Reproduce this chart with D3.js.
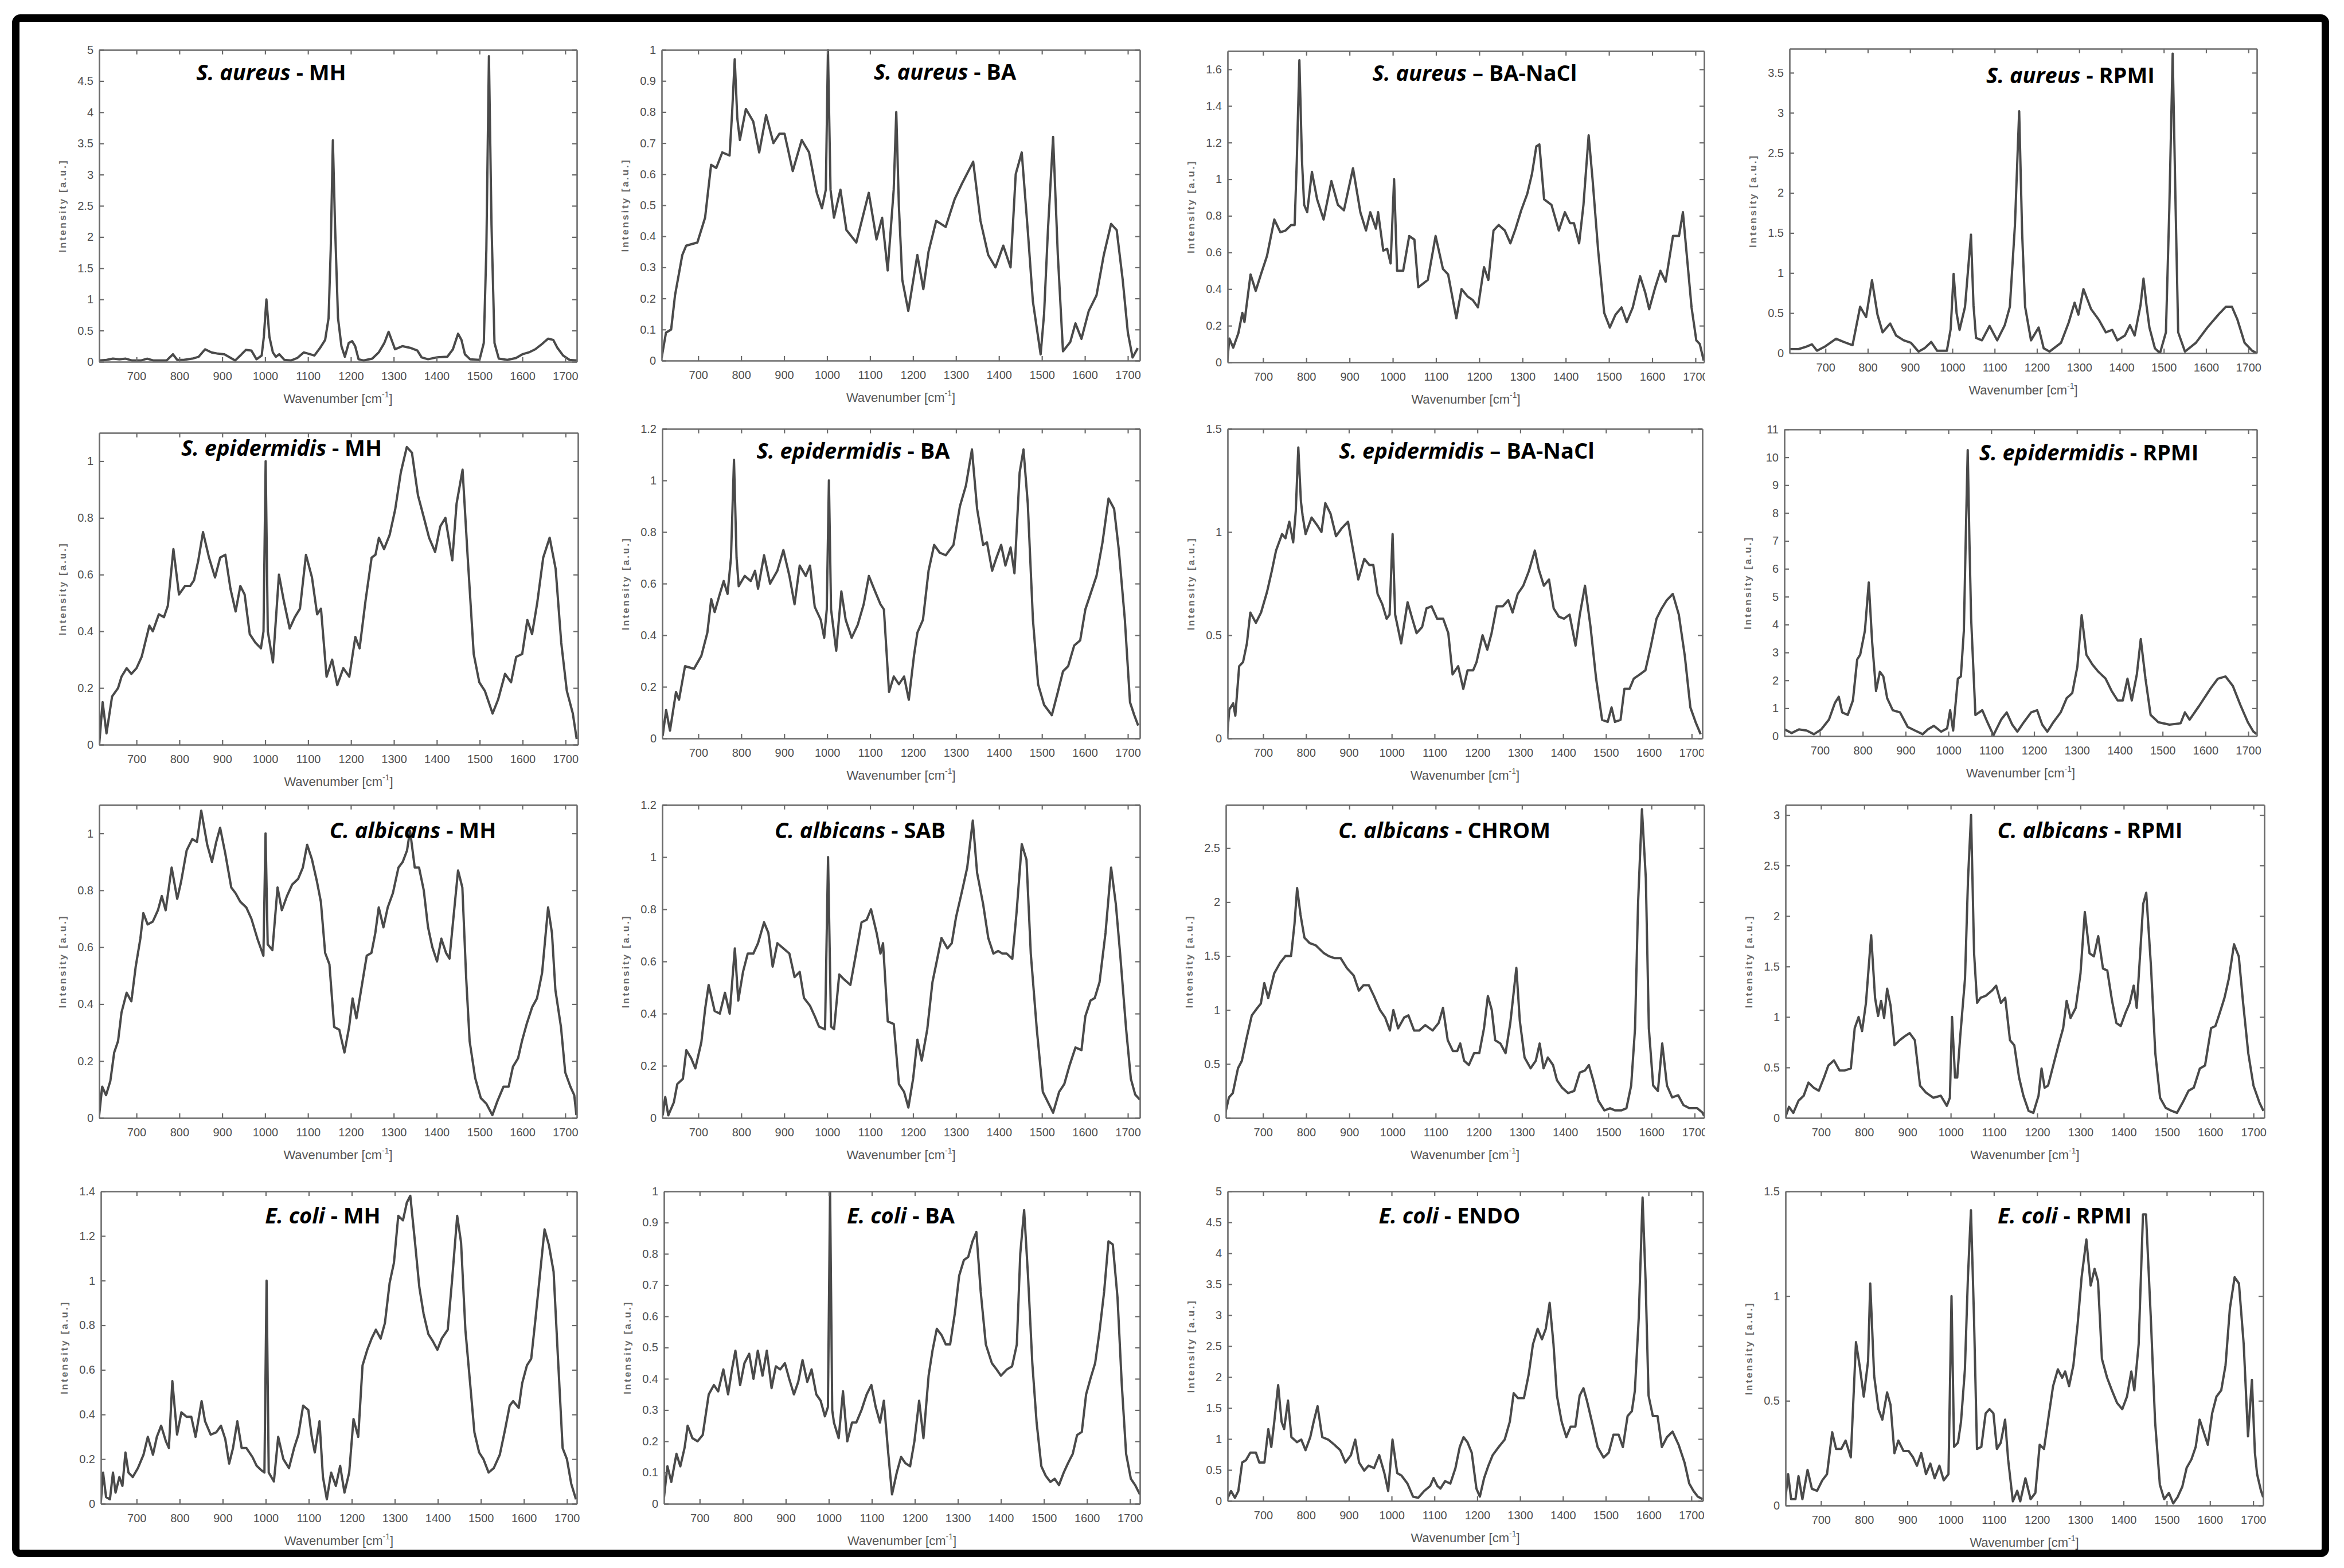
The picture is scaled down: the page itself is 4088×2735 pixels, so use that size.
<!DOCTYPE html>
<html><head><meta charset="utf-8">
<script src="https://cdn.jsdelivr.net/npm/d3@7"></script>
<style>body{margin:0;background:#fff}</style>
</head><body>
<script>
// ---------------- DATA (wavenumber [cm-1], intensity [a.u.]) ----------------
const xTickValues = [700,800,900,1000,1100,1200,1300,1400,1500,1600,1700];

const sAureusMH = [[613,0.02],[630,0.03],[645,0.05],[660,0.04],[675,0.05],[690,0.02],[710,0.02],[725,0.05],[740,0.02],[770,0.02],[785,0.12],[795,0.03],[810,0.03],[830,0.05],[845,0.08],[860,0.2],[875,0.15],[890,0.13],[905,0.12],[915,0.08],[930,0.02],[945,0.12],[955,0.19],[968,0.18],[980,0.04],[992,0.1],[997,0.4],[1003,1.0],[1010,0.4],[1018,0.15],[1025,0.08],[1033,0.12],[1045,0.03],[1060,0.02],[1075,0.06],[1090,0.15],[1105,0.12],[1115,0.1],[1128,0.22],[1140,0.35],[1148,0.7],[1153,1.8],[1158,3.55],[1163,2.2],[1170,0.7],[1178,0.25],[1186,0.08],[1195,0.3],[1203,0.33],[1210,0.25],[1218,0.04],[1230,0.02],[1250,0.05],[1265,0.15],[1278,0.3],[1288,0.48],[1295,0.35],[1303,0.2],[1320,0.25],[1340,0.22],[1355,0.18],[1365,0.07],[1380,0.04],[1400,0.07],[1425,0.08],[1438,0.2],[1450,0.45],[1458,0.35],[1466,0.12],[1478,0.04],[1500,0.03],[1510,0.3],[1516,1.8],[1522,4.9],[1528,2.2],[1535,0.3],[1545,0.05],[1565,0.03],[1585,0.06],[1600,0.12],[1615,0.15],[1630,0.2],[1645,0.28],[1660,0.37],[1672,0.35],[1682,0.22],[1695,0.1],[1710,0.03],[1727,0.02]];

const sAureusBA = [[615,0.01],[625,0.09],[637,0.1],[646,0.21],[663,0.34],[672,0.37],[698,0.38],[716,0.46],[730,0.63],[742,0.62],[756,0.67],[773,0.66],[779,0.8],[785,0.97],[791,0.78],[797,0.71],[811,0.81],[828,0.77],[842,0.67],[858,0.79],[875,0.7],[889,0.73],[901,0.73],[920,0.61],[941,0.71],[958,0.67],[976,0.54],[988,0.49],[997,0.55],[1002,1.0],[1008,0.55],[1016,0.46],[1031,0.55],[1045,0.42],[1068,0.38],[1097,0.54],[1115,0.39],[1128,0.46],[1141,0.29],[1155,0.55],[1161,0.8],[1167,0.5],[1175,0.26],[1189,0.16],[1210,0.34],[1224,0.23],[1236,0.35],[1254,0.45],[1276,0.43],[1297,0.52],[1314,0.57],[1340,0.64],[1357,0.45],[1375,0.34],[1392,0.3],[1410,0.37],[1427,0.3],[1439,0.6],[1453,0.67],[1467,0.42],[1479,0.19],[1497,0.02],[1505,0.15],[1514,0.42],[1526,0.72],[1537,0.34],[1549,0.03],[1566,0.06],[1578,0.12],[1592,0.07],[1609,0.16],[1627,0.21],[1644,0.34],[1661,0.44],[1674,0.42],[1688,0.26],[1700,0.09],[1711,0.01],[1723,0.04]];

const sAureusBANaCl = [[617,0.0],[622,0.13],[631,0.08],[643,0.16],[652,0.27],[657,0.22],[671,0.48],[683,0.39],[695,0.48],[709,0.58],[726,0.78],[740,0.71],[752,0.72],[765,0.75],[773,0.75],[778,1.1],[784,1.65],[790,1.1],[795,0.86],[802,0.82],[813,1.04],[825,0.89],[840,0.78],[858,0.99],[873,0.86],[887,0.83],[908,1.06],[925,0.82],[938,0.72],[948,0.82],[961,0.73],[966,0.82],[978,0.61],[987,0.62],[995,0.54],[1003,1.0],[1010,0.5],[1024,0.5],[1038,0.69],[1050,0.67],[1059,0.41],[1081,0.45],[1099,0.69],[1116,0.51],[1128,0.48],[1147,0.24],[1159,0.4],[1173,0.36],[1185,0.34],[1197,0.3],[1211,0.52],[1221,0.45],[1233,0.72],[1245,0.75],[1259,0.72],[1272,0.65],[1284,0.73],[1297,0.83],[1311,0.92],[1322,1.03],[1332,1.18],[1339,1.19],[1350,0.89],[1367,0.86],[1384,0.72],[1398,0.82],[1410,0.76],[1419,0.76],[1431,0.65],[1441,0.86],[1453,1.24],[1462,1.0],[1475,0.61],[1489,0.27],[1502,0.19],[1515,0.26],[1529,0.3],[1541,0.22],[1555,0.3],[1572,0.47],[1584,0.38],[1593,0.29],[1607,0.41],[1619,0.5],[1631,0.44],[1648,0.69],[1662,0.69],[1671,0.82],[1679,0.61],[1691,0.3],[1702,0.12],[1710,0.1],[1719,0.01]];

const sAureusRPMI = [[615,0.05],[636,0.05],[654,0.08],[668,0.11],[680,0.03],[698,0.08],[725,0.18],[743,0.14],[764,0.1],[782,0.58],[796,0.45],[810,0.91],[823,0.48],[835,0.26],[853,0.37],[867,0.22],[885,0.16],[902,0.13],[920,0.02],[934,0.06],[950,0.14],[964,0.03],[987,0.03],[996,0.3],[1003,0.99],[1010,0.5],[1017,0.29],[1030,0.58],[1044,1.48],[1050,0.6],[1056,0.19],[1070,0.16],[1088,0.34],[1106,0.16],[1124,0.35],[1136,0.58],[1148,1.6],[1158,3.02],[1165,1.5],[1172,0.58],[1186,0.16],[1204,0.32],[1216,0.06],[1230,0.02],[1257,0.13],[1275,0.38],[1289,0.63],[1298,0.48],[1310,0.8],[1328,0.55],[1346,0.42],[1363,0.26],[1378,0.29],[1390,0.16],[1408,0.22],[1420,0.35],[1431,0.22],[1445,0.6],[1452,0.93],[1459,0.6],[1466,0.32],[1479,0.06],[1491,0.0],[1505,0.26],[1513,1.8],[1521,3.74],[1528,1.8],[1534,0.26],[1550,0.02],[1576,0.13],[1603,0.32],[1629,0.48],[1647,0.58],[1661,0.58],[1674,0.42],[1691,0.13],[1709,0.03],[1720,0.0]];

const sEpiMH = [[613,0.0],[621,0.15],[630,0.04],[643,0.17],[657,0.2],[665,0.24],[677,0.27],[688,0.25],[700,0.27],[712,0.31],[730,0.42],[738,0.4],[752,0.46],[764,0.45],[773,0.49],[786,0.69],[799,0.53],[813,0.56],[825,0.56],[834,0.58],[844,0.65],[855,0.75],[869,0.66],[883,0.59],[895,0.66],[907,0.67],[919,0.55],[931,0.47],[942,0.56],[952,0.53],[964,0.39],[977,0.36],[990,0.34],[996,0.4],[1001,1.0],[1006,0.4],[1018,0.29],[1032,0.6],[1043,0.51],[1057,0.41],[1069,0.45],[1081,0.48],[1095,0.67],[1109,0.59],[1121,0.46],[1130,0.48],[1143,0.24],[1156,0.3],[1168,0.21],[1182,0.27],[1196,0.24],[1210,0.38],[1220,0.34],[1234,0.51],[1248,0.66],[1257,0.67],[1265,0.73],[1277,0.69],[1290,0.74],[1303,0.83],[1316,0.96],[1330,1.05],[1342,1.03],[1356,0.88],[1370,0.8],[1382,0.73],[1396,0.68],[1408,0.77],[1420,0.8],[1436,0.65],[1446,0.85],[1460,0.97],[1472,0.66],[1486,0.32],[1499,0.22],[1512,0.19],[1530,0.11],[1543,0.16],[1559,0.25],[1573,0.22],[1585,0.31],[1599,0.32],[1611,0.44],[1622,0.39],[1634,0.5],[1648,0.66],[1663,0.73],[1677,0.62],[1690,0.36],[1703,0.19],[1717,0.11],[1726,0.02]];

const sEpiBA = [[617,0.01],[625,0.11],[634,0.03],[648,0.18],[655,0.15],[669,0.28],[690,0.27],[707,0.32],[721,0.41],[730,0.54],[738,0.49],[750,0.56],[759,0.61],[768,0.56],[776,0.7],[783,1.08],[789,0.7],[794,0.59],[808,0.63],[822,0.61],[832,0.65],[839,0.58],[853,0.71],[867,0.6],[884,0.65],[898,0.73],[912,0.63],[924,0.52],[936,0.67],[950,0.63],[960,0.67],[971,0.51],[985,0.46],[993,0.39],[999,0.5],[1004,1.0],[1009,0.5],[1021,0.34],[1033,0.57],[1043,0.46],[1057,0.39],[1071,0.44],[1085,0.52],[1097,0.63],[1109,0.58],[1124,0.52],[1132,0.5],[1144,0.18],[1155,0.24],[1167,0.21],[1179,0.24],[1190,0.15],[1202,0.32],[1210,0.41],[1223,0.46],[1236,0.65],[1249,0.75],[1262,0.72],[1276,0.71],[1294,0.75],[1309,0.9],[1323,0.98],[1337,1.12],[1349,0.89],[1363,0.75],[1372,0.76],[1384,0.65],[1394,0.7],[1405,0.75],[1415,0.67],[1427,0.74],[1436,0.64],[1448,1.03],[1457,1.12],[1467,0.91],[1479,0.46],[1491,0.21],[1505,0.13],[1523,0.09],[1537,0.18],[1549,0.26],[1561,0.28],[1575,0.36],[1589,0.38],[1601,0.5],[1613,0.56],[1627,0.63],[1641,0.76],[1655,0.93],[1668,0.89],[1679,0.73],[1693,0.46],[1705,0.14],[1715,0.09],[1724,0.05]];

const sEpiBANaCl = [[616,0.02],[621,0.14],[630,0.17],[635,0.11],[644,0.35],[653,0.37],[662,0.46],[670,0.61],[683,0.56],[695,0.61],[709,0.71],[720,0.81],[730,0.91],[744,0.99],[752,0.97],[761,1.05],[770,0.95],[776,1.1],[782,1.41],[788,1.15],[792,1.08],[799,0.99],[813,1.07],[827,1.03],[836,1.0],[845,1.14],[857,1.09],[870,0.98],[884,1.02],[898,1.05],[910,0.91],[922,0.77],[936,0.87],[948,0.84],[957,0.84],[967,0.7],[978,0.65],[988,0.58],[995,0.6],[1002,0.99],[1008,0.6],[1022,0.46],[1037,0.66],[1048,0.58],[1058,0.51],[1071,0.54],[1081,0.63],[1093,0.64],[1106,0.58],[1120,0.58],[1132,0.51],[1142,0.31],[1155,0.35],[1167,0.24],[1177,0.33],[1190,0.33],[1198,0.37],[1212,0.5],[1223,0.43],[1233,0.51],[1245,0.64],[1259,0.64],[1272,0.67],[1282,0.61],[1294,0.7],[1307,0.74],[1320,0.81],[1334,0.91],[1343,0.82],[1355,0.74],[1367,0.77],[1378,0.63],[1390,0.59],[1402,0.58],[1415,0.6],[1429,0.45],[1439,0.6],[1451,0.74],[1464,0.54],[1477,0.29],[1491,0.09],[1504,0.08],[1513,0.15],[1521,0.08],[1534,0.09],[1543,0.24],[1555,0.24],[1565,0.29],[1579,0.31],[1592,0.33],[1604,0.44],[1618,0.58],[1630,0.63],[1642,0.67],[1656,0.7],[1670,0.6],[1684,0.4],[1697,0.15],[1709,0.08],[1721,0.02]];

const sEpiRPMI = [[618,0.24],[634,0.11],[651,0.24],[669,0.2],[686,0.07],[703,0.24],[721,0.59],[735,1.19],[744,1.41],[752,0.85],[765,0.76],[777,1.28],[787,2.75],[794,2.92],[805,3.78],[814,5.51],[822,3.35],[831,1.62],[840,2.31],[848,2.14],[857,1.36],[870,0.93],[887,0.85],[905,0.33],[922,0.2],[940,0.07],[952,0.24],[966,0.37],[983,0.16],[997,0.28],[1004,0.93],[1011,0.2],[1022,2.06],[1029,2.14],[1036,3.78],[1041,7.5],[1045,10.26],[1049,7.0],[1053,4.21],[1063,0.76],[1079,0.93],[1091,0.5],[1105,0.03],[1123,0.59],[1136,0.85],[1149,0.41],[1161,0.16],[1176,0.5],[1193,0.85],[1207,0.93],[1219,0.41],[1231,0.16],[1245,0.5],[1262,0.85],[1276,1.36],[1289,1.54],[1301,2.49],[1311,4.34],[1322,2.92],[1336,2.57],[1350,2.31],[1367,2.06],[1381,1.62],[1395,1.28],[1407,1.28],[1418,2.06],[1428,1.28],[1440,2.23],[1449,3.48],[1460,2.06],[1472,0.76],[1490,0.5],[1516,0.41],[1542,0.46],[1552,0.85],[1563,0.59],[1586,1.1],[1612,1.71],[1629,2.06],[1647,2.14],[1664,1.8],[1682,1.1],[1699,0.5],[1712,0.16],[1720,0.07]];

const cAlbMH = [[613,0.01],[620,0.11],[629,0.08],[639,0.13],[648,0.23],[657,0.27],[665,0.37],[677,0.44],[688,0.41],[698,0.53],[709,0.63],[716,0.72],[726,0.68],[738,0.69],[750,0.73],[759,0.78],[768,0.73],[782,0.88],[795,0.77],[804,0.83],[817,0.94],[830,0.98],[841,0.97],[851,1.08],[865,0.96],[876,0.9],[886,0.97],[895,1.02],[907,0.93],[921,0.81],[931,0.79],[942,0.76],[956,0.74],[968,0.7],[982,0.63],[996,0.57],[1001,1.0],[1006,0.61],[1017,0.59],[1029,0.81],[1039,0.73],[1051,0.78],[1063,0.82],[1077,0.84],[1088,0.88],[1098,0.96],[1109,0.91],[1121,0.83],[1130,0.76],[1140,0.58],[1150,0.54],[1161,0.32],[1173,0.31],[1185,0.23],[1196,0.32],[1204,0.42],[1213,0.35],[1225,0.46],[1237,0.57],[1248,0.58],[1257,0.65],[1265,0.74],[1276,0.67],[1286,0.74],[1298,0.79],[1311,0.88],[1321,0.9],[1331,0.94],[1338,1.01],[1349,0.88],[1359,0.88],[1370,0.8],[1380,0.67],[1390,0.6],[1401,0.55],[1411,0.63],[1422,0.58],[1430,0.56],[1439,0.7],[1450,0.87],[1460,0.81],[1469,0.49],[1477,0.27],[1490,0.14],[1503,0.07],[1516,0.05],[1530,0.01],[1542,0.06],[1556,0.11],[1568,0.11],[1578,0.18],[1590,0.21],[1599,0.27],[1610,0.33],[1623,0.39],[1634,0.42],[1646,0.51],[1660,0.74],[1669,0.65],[1677,0.45],[1690,0.32],[1700,0.16],[1712,0.11],[1721,0.08],[1726,0.01]];

const cAlbSAB = [[617,0.01],[623,0.08],[630,0.01],[643,0.06],[651,0.13],[664,0.15],[672,0.26],[683,0.23],[693,0.19],[707,0.29],[716,0.42],[724,0.51],[738,0.41],[750,0.4],[762,0.48],[773,0.4],[785,0.65],[793,0.45],[804,0.56],[815,0.63],[828,0.63],[839,0.67],[853,0.75],[863,0.71],[873,0.58],[884,0.67],[898,0.65],[912,0.63],[924,0.54],[936,0.56],[946,0.46],[960,0.43],[971,0.39],[981,0.35],[995,0.34],[1002,1.0],[1009,0.35],[1016,0.34],[1028,0.55],[1040,0.53],[1054,0.51],[1066,0.62],[1080,0.75],[1092,0.76],[1102,0.8],[1115,0.71],[1124,0.63],[1130,0.67],[1141,0.37],[1155,0.36],[1167,0.13],[1179,0.1],[1189,0.04],[1200,0.15],[1210,0.3],[1220,0.22],[1233,0.34],[1245,0.52],[1255,0.6],[1266,0.69],[1280,0.65],[1290,0.67],[1300,0.77],[1314,0.87],[1326,0.96],[1339,1.14],[1349,0.94],[1363,0.82],[1375,0.69],[1387,0.63],[1398,0.64],[1408,0.63],[1418,0.63],[1431,0.61],[1441,0.79],[1453,1.05],[1464,0.99],[1474,0.63],[1488,0.34],[1502,0.1],[1514,0.06],[1526,0.02],[1540,0.1],[1552,0.13],[1564,0.2],[1578,0.27],[1592,0.26],[1601,0.39],[1613,0.45],[1623,0.46],[1634,0.52],[1648,0.71],[1661,0.96],[1672,0.82],[1682,0.63],[1696,0.34],[1707,0.15],[1717,0.09],[1728,0.07]];

const cAlbCHROM = [[613,0.05],[621,0.19],[630,0.23],[642,0.46],[651,0.53],[662,0.74],[674,0.95],[687,1.02],[695,1.06],[703,1.25],[712,1.11],[726,1.34],[740,1.44],[752,1.5],[765,1.5],[773,1.8],[779,2.13],[787,1.88],[796,1.67],[808,1.62],[822,1.6],[840,1.53],[852,1.5],[866,1.48],[880,1.48],[894,1.39],[910,1.32],[922,1.18],[933,1.23],[945,1.23],[957,1.13],[971,1.0],[983,0.93],[994,0.81],[1002,1.0],[1013,0.83],[1027,0.93],[1037,0.95],[1050,0.81],[1062,0.81],[1076,0.86],[1093,0.81],[1107,0.88],[1117,1.02],[1128,0.72],[1140,0.62],[1150,0.62],[1157,0.69],[1166,0.53],[1177,0.49],[1189,0.6],[1201,0.6],[1212,0.83],[1221,1.13],[1230,1.0],[1238,0.72],[1250,0.69],[1262,0.6],[1273,0.88],[1287,1.39],[1295,0.9],[1306,0.56],[1320,0.46],[1332,0.53],[1341,0.69],[1350,0.46],[1360,0.56],[1372,0.49],[1381,0.35],[1393,0.28],[1407,0.23],[1421,0.25],[1434,0.42],[1446,0.44],[1455,0.49],[1465,0.35],[1477,0.16],[1491,0.07],[1504,0.09],[1516,0.07],[1530,0.07],[1542,0.09],[1553,0.3],[1562,0.83],[1569,1.99],[1578,2.86],[1587,2.22],[1594,0.83],[1604,0.3],[1615,0.25],[1625,0.69],[1636,0.3],[1648,0.19],[1662,0.21],[1674,0.12],[1688,0.09],[1706,0.09],[1718,0.05],[1722,0.02]];

const cAlbRPMI = [[617,0.0],[626,0.11],[636,0.05],[648,0.17],[660,0.22],[671,0.35],[683,0.3],[695,0.27],[707,0.4],[717,0.52],[730,0.57],[743,0.47],[755,0.47],[769,0.49],[778,0.89],[787,1.0],[795,0.86],[804,1.14],[816,1.81],[825,1.19],[832,1.01],[839,1.16],[846,0.99],[853,1.28],[861,1.11],[870,0.72],[882,0.77],[894,0.81],[905,0.84],[917,0.77],[929,0.32],[943,0.25],[960,0.2],[977,0.22],[991,0.12],[998,0.2],[1003,1.0],[1010,0.4],[1015,0.4],[1022,0.81],[1033,1.38],[1040,2.37],[1047,3.0],[1054,1.63],[1061,1.14],[1069,1.19],[1081,1.21],[1095,1.26],[1105,1.31],[1116,1.14],[1126,1.19],[1137,0.77],[1147,0.72],[1158,0.4],[1168,0.22],[1180,0.07],[1191,0.05],[1203,0.22],[1210,0.49],[1217,0.3],[1225,0.32],[1237,0.52],[1249,0.72],[1260,0.89],[1268,1.16],[1277,0.99],[1289,1.09],[1300,1.43],[1310,2.04],[1321,1.63],[1331,1.6],[1341,1.8],[1352,1.48],[1362,1.46],[1373,1.16],[1383,0.94],[1393,0.91],[1404,1.04],[1414,1.14],[1423,1.31],[1430,1.09],[1438,1.63],[1445,2.12],[1452,2.23],[1463,1.5],[1473,0.64],[1484,0.2],[1497,0.1],[1511,0.07],[1523,0.05],[1536,0.15],[1550,0.27],[1562,0.3],[1576,0.49],[1588,0.52],[1602,0.89],[1612,0.91],[1622,1.04],[1633,1.19],[1643,1.38],[1655,1.72],[1666,1.6],[1676,1.14],[1688,0.64],[1700,0.32],[1714,0.15],[1723,0.07]];

const eColiMH = [[617,0.01],[622,0.14],[629,0.03],[638,0.02],[645,0.14],[651,0.05],[660,0.12],[667,0.08],[674,0.23],[681,0.14],[691,0.12],[703,0.16],[716,0.22],[726,0.3],[738,0.22],[747,0.3],[757,0.35],[768,0.28],[775,0.25],[783,0.55],[794,0.31],[804,0.41],[816,0.39],[827,0.39],[837,0.3],[851,0.46],[859,0.37],[872,0.31],[885,0.32],[896,0.35],[906,0.29],[915,0.18],[924,0.25],[934,0.37],[944,0.25],[955,0.25],[969,0.21],[979,0.17],[990,0.15],[997,0.14],[1002,1.0],[1007,0.14],[1019,0.1],[1029,0.3],[1041,0.2],[1054,0.16],[1066,0.25],[1076,0.31],[1087,0.44],[1099,0.42],[1107,0.3],[1114,0.23],[1125,0.37],[1133,0.12],[1142,0.02],[1152,0.14],[1163,0.08],[1173,0.17],[1183,0.05],[1194,0.14],[1204,0.38],[1215,0.3],[1225,0.62],[1236,0.69],[1246,0.74],[1256,0.78],[1267,0.74],[1277,0.81],[1288,0.99],[1298,1.08],[1308,1.29],[1319,1.27],[1328,1.35],[1336,1.38],[1347,1.17],[1357,0.97],[1367,0.85],[1378,0.76],[1388,0.73],[1399,0.69],[1409,0.74],[1423,0.78],[1433,1.0],[1445,1.29],[1454,1.17],[1464,0.78],[1475,0.54],[1485,0.32],[1496,0.23],[1506,0.2],[1518,0.14],[1530,0.16],[1544,0.22],[1556,0.33],[1567,0.44],[1575,0.46],[1588,0.43],[1596,0.54],[1607,0.62],[1617,0.65],[1627,0.83],[1638,1.04],[1648,1.23],[1658,1.16],[1669,1.04],[1679,0.66],[1690,0.25],[1700,0.2],[1710,0.09],[1721,0.02]];

const eColiBA = [[617,0.02],[625,0.12],[634,0.07],[646,0.16],[655,0.12],[665,0.18],[672,0.25],[683,0.21],[695,0.2],[707,0.22],[721,0.35],[733,0.38],[743,0.36],[755,0.43],[766,0.35],[775,0.43],[783,0.49],[794,0.38],[804,0.45],[815,0.48],[825,0.4],[835,0.49],[846,0.41],[856,0.49],[867,0.37],[877,0.44],[887,0.43],[898,0.45],[908,0.4],[919,0.35],[929,0.39],[939,0.46],[950,0.39],[960,0.43],[971,0.35],[981,0.33],[991,0.28],[998,0.31],[1003,1.0],[1008,0.3],[1012,0.26],[1023,0.21],[1033,0.36],[1043,0.2],[1054,0.26],[1064,0.26],[1076,0.3],[1088,0.35],[1099,0.38],[1109,0.31],[1119,0.26],[1128,0.33],[1137,0.18],[1147,0.03],[1158,0.1],[1168,0.15],[1178,0.13],[1189,0.12],[1199,0.2],[1210,0.33],[1220,0.21],[1232,0.41],[1241,0.49],[1251,0.56],[1262,0.54],[1272,0.51],[1282,0.51],[1293,0.61],[1303,0.73],[1314,0.78],[1324,0.79],[1334,0.84],[1343,0.87],[1353,0.68],[1365,0.51],[1379,0.45],[1390,0.43],[1400,0.41],[1414,0.43],[1426,0.44],[1437,0.51],[1445,0.8],[1454,0.94],[1463,0.73],[1473,0.45],[1483,0.26],[1494,0.12],[1504,0.09],[1515,0.07],[1525,0.08],[1535,0.06],[1546,0.1],[1556,0.13],[1567,0.16],[1577,0.22],[1588,0.23],[1598,0.35],[1608,0.4],[1619,0.45],[1629,0.55],[1640,0.68],[1650,0.84],[1660,0.83],[1671,0.66],[1681,0.38],[1691,0.16],[1702,0.08],[1712,0.06],[1723,0.03]];

const eColiENDO = [[616,0.03],[625,0.16],[634,0.05],[642,0.16],[651,0.62],[660,0.66],[670,0.78],[683,0.78],[691,0.62],[703,0.62],[712,1.16],[719,0.87],[726,1.28],[735,1.87],[743,1.28],[749,1.16],[758,1.62],[766,1.03],[779,0.95],[789,0.99],[799,0.82],[810,1.03],[818,1.28],[827,1.53],[838,1.03],[852,0.99],[866,0.91],[880,0.82],[892,0.62],[905,0.74],[915,0.99],[924,0.62],[936,0.49],[946,0.57],[959,0.53],[971,0.74],[983,0.45],[992,0.16],[1002,0.99],[1013,0.45],[1023,0.41],[1037,0.28],[1050,0.07],[1062,0.05],[1076,0.16],[1090,0.24],[1098,0.37],[1107,0.24],[1114,0.2],[1125,0.32],[1137,0.28],[1149,0.53],[1159,0.87],[1168,1.03],[1177,0.95],[1187,0.78],[1198,0.2],[1206,0.07],[1216,0.37],[1226,0.57],[1236,0.74],[1250,0.87],[1264,0.99],[1276,1.28],[1285,1.74],[1295,1.66],[1309,1.66],[1320,2.04],[1330,2.53],[1341,2.78],[1351,2.61],[1360,2.78],[1369,3.2],[1378,2.53],[1386,1.7],[1397,1.28],[1408,1.03],[1418,1.2],[1429,1.2],[1439,1.7],[1448,1.82],[1456,1.62],[1469,1.24],[1481,0.87],[1495,0.7],[1507,0.78],[1518,1.07],[1530,1.07],[1540,0.87],[1551,1.37],[1561,1.45],[1568,1.78],[1577,2.95],[1586,4.9],[1593,3.57],[1600,1.7],[1610,1.37],[1621,1.37],[1631,0.87],[1643,1.03],[1656,1.12],[1670,0.91],[1684,0.62],[1695,0.28],[1705,0.16],[1715,0.07],[1726,0.03]];

const eColiRPMI = [[617,0.02],[624,0.15],[631,0.03],[641,0.03],[648,0.14],[657,0.03],[669,0.17],[679,0.08],[691,0.07],[703,0.12],[714,0.15],[726,0.35],[735,0.27],[747,0.27],[757,0.31],[769,0.23],[781,0.78],[790,0.66],[799,0.52],[809,0.69],[814,1.06],[823,0.62],[833,0.46],[842,0.41],[853,0.54],[861,0.48],[870,0.25],[879,0.31],[891,0.26],[903,0.26],[913,0.23],[922,0.19],[932,0.25],[943,0.15],[953,0.2],[963,0.13],[974,0.19],[984,0.12],[995,0.15],[1002,1.0],[1008,0.28],[1017,0.3],[1024,0.4],[1033,0.65],[1040,1.09],[1047,1.41],[1054,0.9],[1061,0.27],[1071,0.28],[1081,0.44],[1090,0.46],[1099,0.44],[1107,0.27],[1116,0.3],[1126,0.41],[1133,0.22],[1144,0.02],[1154,0.07],[1161,0.02],[1173,0.13],[1185,0.03],[1196,0.06],[1206,0.29],[1216,0.27],[1227,0.43],[1237,0.57],[1248,0.65],[1258,0.61],[1265,0.64],[1274,0.57],[1284,0.67],[1294,0.87],[1303,1.09],[1314,1.27],[1324,1.05],[1333,1.13],[1341,1.07],[1350,0.7],[1362,0.61],[1373,0.55],[1385,0.49],[1397,0.46],[1408,0.52],[1418,0.64],[1425,0.55],[1435,0.77],[1445,1.39],[1452,1.39],[1463,0.9],[1473,0.4],[1484,0.1],[1494,0.03],[1505,0.06],[1515,0.01],[1525,0.04],[1536,0.09],[1546,0.18],[1557,0.22],[1567,0.28],[1576,0.41],[1584,0.36],[1595,0.29],[1605,0.44],[1615,0.52],[1626,0.55],[1636,0.67],[1646,0.94],[1657,1.09],[1667,1.06],[1678,0.77],[1688,0.33],[1697,0.6],[1704,0.25],[1709,0.15],[1718,0.07],[1723,0.04]];

const spectra = [sAureusMH, sAureusBA, sAureusBANaCl, sAureusRPMI,
                 sEpiMH, sEpiBA, sEpiBANaCl, sEpiRPMI,
                 cAlbMH, cAlbSAB, cAlbCHROM, cAlbRPMI,
                 eColiMH, eColiBA, eColiENDO, eColiRPMI];

const species = ["S. aureus","S. aureus","S. aureus","S. aureus",
                 "S. epidermidis","S. epidermidis","S. epidermidis","S. epidermidis",
                 "C. albicans","C. albicans","C. albicans","C. albicans",
                 "E. coli","E. coli","E. coli","E. coli"];
const media = [" - MH"," - BA"," \u2013 BA-NaCl"," - RPMI",
               " - MH"," - BA"," \u2013 BA-NaCl"," - RPMI",
               " - MH"," - SAB"," - CHROM"," - RPMI",
               " - MH"," - BA"," - ENDO"," - RPMI"];

const yMax = [5, 1, 1.7, 3.8, 1.1, 1.2, 1.5, 11, 1.1, 1.2, 2.9, 3.1, 1.4, 1, 5, 1.5];
const yTickValues = [
  [0,0.5,1,1.5,2,2.5,3,3.5,4,4.5,5],
  [0,0.1,0.2,0.3,0.4,0.5,0.6,0.7,0.8,0.9,1],
  [0,0.2,0.4,0.6,0.8,1,1.2,1.4,1.6],
  [0,0.5,1,1.5,2,2.5,3,3.5],
  [0,0.2,0.4,0.6,0.8,1],
  [0,0.2,0.4,0.6,0.8,1,1.2],
  [0,0.5,1,1.5],
  [0,1,2,3,4,5,6,7,8,9,10,11],
  [0,0.2,0.4,0.6,0.8,1],
  [0,0.2,0.4,0.6,0.8,1,1.2],
  [0,0.5,1,1.5,2,2.5],
  [0,0.5,1,1.5,2,2.5,3],
  [0,0.2,0.4,0.6,0.8,1,1.2,1.4],
  [0,0.1,0.2,0.3,0.4,0.5,0.6,0.7,0.8,0.9,1],
  [0,0.5,1,1.5,2,2.5,3,3.5,4,4.5,5],
  [0,0.5,1,1.5]
];
const xDomains = [[613,1727],[615,1728],[618,1720],[615,1720],
                  [613,1729],[616,1728],[617,1725],[617,1720],
                  [613,1727],[616,1728],[614,1722],[618,1725],
                  [617,1723],[617,1723],[617,1727],[618,1723]];

// ---------------- LAYOUT (pixel positions) ----------------
const layout = [
  {l:173,r:1006,t:87,b:631,tx:473,ty:140},
  {l:1154,r:1988,t:87,b:629,tx:1648,ty:139},
  {l:2141,r:2972,t:89,b:632,tx:2572,ty:141,clip:true},
  {l:3121,r:3936,t:85,b:616,tx:3611,ty:145},
  {l:173,r:1008,t:755,b:1299,tx:491,ty:795},
  {l:1155,r:1988,t:748,b:1288,tx:1488,ty:800},
  {l:2141,r:2969,t:748,b:1288,tx:2558,ty:800,clip:true},
  {l:3112,r:3936,t:749,b:1284,tx:3643,ty:803},
  {l:173,r:1006,t:1404,b:1950,tx:720,ty:1462},
  {l:1155,r:1988,t:1404,b:1950,tx:1500,ty:1462},
  {l:2138,r:2972,t:1404,b:1950,tx:2519,ty:1462,clip:true},
  {l:3114,r:3949,t:1404,b:1950,tx:3645,ty:1462},
  {l:176,r:1006,t:2078,b:2623,tx:563,ty:2134},
  {l:1158,r:1988,t:2078,b:2623,tx:1571,ty:2134},
  {l:2141,r:2970,t:2078,b:2618,tx:2528,ty:2134,clip:true},
  {l:3114,r:3947,t:2078,b:2626,tx:3601,ty:2134}
];

const W = 4088, H = 2735;
const AXIS = "#6b6b6b", TICKTXT = "#4f4f4f", LINE = "#4a4a4a";
const svg = d3.select("body").append("svg").attr("width", W).attr("height", H);
const defs = svg.append("defs");
svg.append("rect").attr("width", W).attr("height", H).attr("fill", "#fff");

const fmt = d3.format("~g");

spectra.forEach((data, i) => {
  const L = layout[i];
  const x = d3.scaleLinear().domain(xDomains[i]).range([L.l, L.r]);
  const y = d3.scaleLinear().domain([0, yMax[i]]).range([L.b, L.t]);

  defs.append("clipPath").attr("id", "plot" + i).append("rect")
    .attr("x", L.l).attr("y", L.t - 1).attr("width", L.r - L.l).attr("height", L.b - L.t + 2);
  defs.append("clipPath").attr("id", "panel" + i).append("rect")
    .attr("x", L.l - 160).attr("y", L.t - 80)
    .attr("width", (L.clip ? L.r + 2 : L.r + 60) - (L.l - 160)).attr("height", L.b - L.t + 190);

  const g = svg.append("g").attr("clip-path", `url(#panel${i})`);

  // spectrum
  g.append("path").datum(data)
    .attr("clip-path", `url(#plot${i})`)
    .attr("fill", "none").attr("stroke", LINE).attr("stroke-width", 4)
    .attr("stroke-linejoin", "round")
    .attr("d", d3.line().x(d => x(d[0])).y(d => y(d[1])));

  const style = sel => {
    sel.attr("font-family", "'Liberation Sans', Arial, sans-serif").attr("font-size", 20);
    sel.select(".domain").attr("stroke", AXIS).attr("stroke-width", 2.6);
    sel.selectAll(".tick line").attr("stroke", AXIS).attr("stroke-width", 2.2);
    sel.selectAll(".tick text").attr("fill", TICKTXT);
  };

  g.append("g").attr("transform", `translate(0,${L.b})`)
    .call(d3.axisBottom(x).tickValues(xTickValues).tickSize(-8).tickSizeOuter(0).tickPadding(18).tickFormat(d3.format("d")))
    .call(style);
  g.append("g").attr("transform", `translate(0,${L.t})`)
    .call(d3.axisTop(x).tickValues(xTickValues).tickSize(-8).tickSizeOuter(0).tickFormat(() => ""))
    .call(style);
  g.append("g").attr("transform", `translate(${L.l},0)`)
    .call(d3.axisLeft(y).tickValues(yTickValues[i]).tickSize(-8).tickSizeOuter(0).tickPadding(10).tickFormat(fmt))
    .call(style);
  g.append("g").attr("transform", `translate(${L.r},0)`)
    .call(d3.axisRight(y).tickValues(yTickValues[i]).tickSize(-8).tickSizeOuter(0).tickFormat(() => ""))
    .call(style);

  // y label
  g.append("text")
    .attr("transform", `translate(${L.l - 64},${(L.t + L.b) / 2}) rotate(-90)`)
    .attr("text-anchor", "middle").attr("dominant-baseline", "central")
    .attr("font-family", "'Liberation Sans', Arial, sans-serif").attr("font-size", 17)
    .attr("font-weight", "bold").attr("letter-spacing", 3).attr("fill", "#6a6a6a")
    .text("Intensity [a.u.]");

  // x label
  const xl = g.append("text")
    .attr("x", (L.l + L.r) / 2).attr("y", L.b + 72)
    .attr("text-anchor", "middle")
    .attr("font-family", "'Liberation Sans', Arial, sans-serif").attr("font-size", 22)
    .attr("fill", "#555");
  xl.append("tspan").text("Wavenumber [cm");
  xl.append("tspan").attr("dy", -10).attr("font-size", 14).text("-1");
  xl.append("tspan").attr("dy", 10).text("]");

  // title
  const t = svg.append("text")
    .attr("x", L.tx).attr("y", L.ty).attr("text-anchor", "middle")
    .attr("font-family", "'Open Sans', sans-serif").attr("font-weight", 700)
    .attr("font-size", 38).attr("fill", "#000");
  t.append("tspan").attr("font-style", "italic").text(species[i]);
  t.append("tspan").text(media[i]);
});

// outer frame
svg.append("rect").attr("x", 27.5).attr("y", 31.5).attr("width", 4028).attr("height", 2678)
  .attr("rx", 8).attr("fill", "none").attr("stroke", "#000").attr("stroke-width", 13);
</script>
</body></html>
